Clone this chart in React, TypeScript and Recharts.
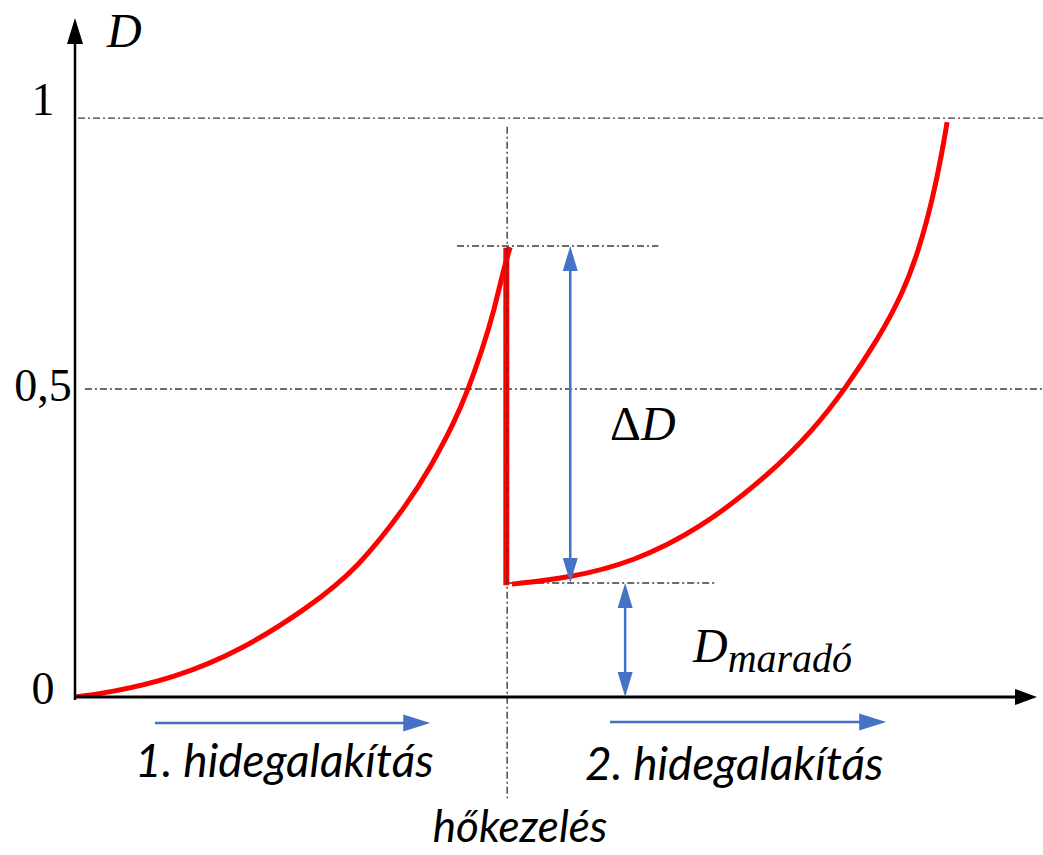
import { LineChart, Line, XAxis, YAxis, ReferenceLine, ReferenceDot } from "recharts";

// D (damage / deformation degree) vs. process progress, heat treatment at t = 1
const firstColdWork = [
  { t: 0, d: 0 },
  { t: 0.076, d: 0.007 },
  { t: 0.231, d: 0.033 },
  { t: 0.386, d: 0.081 },
  { t: 0.539, d: 0.154 },
  { t: 0.655, d: 0.222 },
  { t: 0.771, d: 0.335 },
  { t: 0.822, d: 0.396 },
  { t: 0.877, d: 0.473 },
  { t: 0.91, d: 0.532 },
  { t: 0.942, d: 0.599 },
  { t: 0.97, d: 0.668 },
  { t: 0.991, d: 0.737 },
  { t: 1.007, d: 0.777 }
];

const heatTreatmentDrop = [
  { t: 0.998, d: 0.776 },
  { t: 0.998, d: 0.193 }
];

const secondColdWork = [
  { t: 1.011, d: 0.195 },
  { t: 1.146, d: 0.206 },
  { t: 1.291, d: 0.233 },
  { t: 1.446, d: 0.29 },
  { t: 1.608, d: 0.385 },
  { t: 1.708, d: 0.461 },
  { t: 1.782, d: 0.532 },
  { t: 1.858, d: 0.618 },
  { t: 1.914, d: 0.695 },
  { t: 1.953, d: 0.772 },
  { t: 1.986, d: 0.865 },
  { t: 2.006, d: 0.94 },
  { t: 2.018, d: 0.993 }
];

const yTicks = [0, 0.532, 1];
const yTickLabels: Record<number, string> = { 0: "0", 0.532: "0,5", 1: "1" };

const heatT = 1;
const peakD = 0.779;
const residualD = 0.197;
const fullD = 1;
const halfD = 0.532;

const RED = "#ff0000";
const BLUE = "#4472c4";
const DASH = "#3c3c3c";
const MATH_FONT = "'Liberation Serif', 'Times New Roman', serif";
const TEXT_FONT = "Lato, 'Open Sans', sans-serif";

function arrowShape(color: string, width: number, both: boolean, len: number, half: number) {
  return (props: any) => {
    const { x1, y1, x2, y2 } = props;
    const dx = x2 - x1;
    const dy = y2 - y1;
    const l = Math.hypot(dx, dy) || 1;
    const ux = dx / l;
    const uy = dy / l;
    const head = (tx: number, ty: number, vx: number, vy: number) => {
      const bx = tx - vx * len;
      const by = ty - vy * len;
      return `${tx},${ty} ${bx - vy * half},${by + vx * half} ${bx + vy * half},${by - vx * half}`;
    };
    const trim = len * 0.8;
    return (
      <g>
        <line
          x1={both ? x1 + ux * trim : x1}
          y1={both ? y1 + uy * trim : y1}
          x2={x2 - ux * trim}
          y2={y2 - uy * trim}
          stroke={color}
          strokeWidth={width}
        />
        <polygon points={head(x2, y2, ux, uy)} fill={color} />
        {both ? <polygon points={head(x1, y1, -ux, -uy)} fill={color} /> : null}
      </g>
    );
  };
}

const dashLine = (props: any) => (
  <line
    x1={props.x1}
    y1={props.y1}
    x2={props.x2}
    y2={props.y2}
    stroke={DASH}
    strokeWidth={1.4}
    strokeDasharray="7 3 2 3"
  />
);

function textAt(content: any, opts: { font: string; size: number; anchor?: string }) {
  return (p: any) => (
    <text
      x={p.cx}
      y={p.cy}
      fontFamily={opts.font}
      fontSize={opts.size}
      fontStyle="italic"
      textAnchor={opts.anchor ?? "start"}
      fill="#000"
    >
      {content}
    </text>
  );
}

const YTick = (props: any) => {
  const v = props.payload.value;
  const dy = v === 0 ? 7 : v === 1 ? -3 : 12;
  return (
    <text x={props.x - 24} y={props.y + dy} textAnchor="middle" fontFamily={MATH_FONT} fontSize={46} fill="#000">
      {yTickLabels[v] ?? String(v)}
    </text>
  );
};

export default function App() {
  return (
    <div style={{ position: "absolute", left: 0, top: 0, background: "#fff" }}>
      <LineChart width={1043} height={855} margin={{ top: 18, right: 6, bottom: 158, left: 0 }}>
        <XAxis dataKey="t" type="number" domain={[0, 2.226]} hide allowDataOverflow />
        <YAxis
          type="number"
          domain={[0, 1.173]}
          ticks={yTicks}
          interval={0}
          width={75}
          axisLine={false}
          tickLine={false}
          tick={<YTick />}
          allowDataOverflow
        />

        {/* dash-dot guide lines */}
        <ReferenceLine segment={[{ x: 0.007, y: fullD }, { x: 2.24, y: fullD }]} ifOverflow="visible" shape={dashLine} />
        <ReferenceLine segment={[{ x: 0.023, y: halfD }, { x: 2.24, y: halfD }]} ifOverflow="visible" shape={dashLine} />
        <ReferenceLine segment={[{ x: 0.884, y: peakD }, { x: 1.35, y: peakD }]} ifOverflow="visible" shape={dashLine} />
        <ReferenceLine segment={[{ x: 1.0, y: residualD }, { x: 1.481, y: residualD }]} ifOverflow="visible" shape={dashLine} />

        <Line data={firstColdWork} dataKey="d" type="basis" stroke={RED} strokeWidth={5} dot={false} activeDot={false} isAnimationActive={false} />
        <Line data={heatTreatmentDrop} dataKey="d" type="linear" stroke={RED} strokeWidth={6} dot={false} activeDot={false} isAnimationActive={false} />
        <Line data={secondColdWork} dataKey="d" type="basis" stroke={RED} strokeWidth={5} dot={false} activeDot={false} isAnimationActive={false} />

        <ReferenceLine segment={[{ x: heatT, y: 0.985 }, { x: heatT, y: -0.175 }]} ifOverflow="visible" shape={dashLine} />

        {/* axes with arrow heads */}
        <ReferenceLine segment={[{ x: 0, y: -0.005 }, { x: 0, y: 1.173 }]} ifOverflow="visible" shape={arrowShape("#000", 2.5, false, 26, 8)} />
        <ReferenceLine segment={[{ x: 0, y: 0 }, { x: 2.226, y: 0 }]} ifOverflow="visible" shape={arrowShape("#000", 3, false, 22, 8)} />

        {/* blue dimension arrows */}
        <ReferenceLine segment={[{ x: 1.146, y: residualD }, { x: 1.146, y: peakD }]} ifOverflow="visible" shape={arrowShape(BLUE, 2.5, true, 25, 7.5)} />
        <ReferenceLine segment={[{ x: 1.273, y: 0 }, { x: 1.273, y: residualD }]} ifOverflow="visible" shape={arrowShape(BLUE, 2.5, true, 25, 7.5)} />
        <ReferenceLine segment={[{ x: 0.185, y: -0.045 }, { x: 0.822, y: -0.045 }]} ifOverflow="visible" shape={arrowShape(BLUE, 2.5, false, 27, 8.5)} />
        <ReferenceLine segment={[{ x: 1.238, y: -0.043 }, { x: 1.877, y: -0.043 }]} ifOverflow="visible" shape={arrowShape(BLUE, 2.5, false, 27, 8.5)} />

        {/* labels */}
        <ReferenceDot x={0.074} y={1.123} ifOverflow="visible" shape={textAt("D", { font: MATH_FONT, size: 48 })} />
        <ReferenceDot
          x={1.238}
          y={0.444}
          ifOverflow="visible"
          shape={textAt(
            <>
              <tspan fontStyle="normal">Δ</tspan>
              <tspan>D</tspan>
            </>,
            { font: MATH_FONT, size: 48 }
          )}
        />
        <ReferenceDot
          x={1.43}
          y={0.06}
          ifOverflow="visible"
          shape={textAt(
            <>
              <tspan>D</tspan>
              <tspan fontSize={40} dy={10}>maradó</tspan>
            </>,
            { font: MATH_FONT, size: 48 }
          )}
        />
        <ReferenceDot x={0.139} y={-0.138} ifOverflow="visible" shape={textAt("1. hidegalakítás", { font: TEXT_FONT, size: 46 })} />
        <ReferenceDot x={1.18} y={-0.143} ifOverflow="visible" shape={textAt("2. hidegalakítás", { font: TEXT_FONT, size: 46 })} />
        <ReferenceDot x={1.03} y={-0.25} ifOverflow="visible" shape={textAt("hőkezelés", { font: TEXT_FONT, size: 44, anchor: "middle" })} />
      </LineChart>
    </div>
  );
}
